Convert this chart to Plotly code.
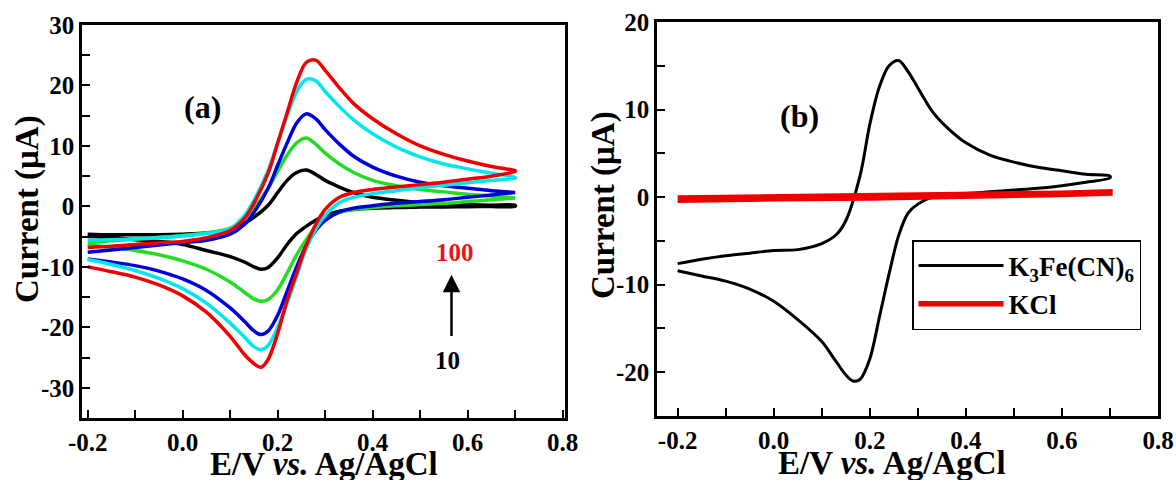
import plotly.graph_objects as go

# ---------------- data ----------------
# potential grid (V): forward (anodic) and reverse (cathodic) sweep
X_FWD = [-0.2, -0.15, -0.1, -0.05, 0.0, 0.05, 0.1, 0.13, 0.15, 0.18, 0.2, 0.22,
         0.24, 0.26, 0.28, 0.3, 0.33, 0.36, 0.4, 0.45, 0.5, 0.55, 0.6, 0.65, 0.7]
X_REV = [0.7, 0.65, 0.6, 0.55, 0.5, 0.45, 0.4, 0.36, 0.33, 0.3, 0.28, 0.26, 0.24,
         0.22, 0.2, 0.18, 0.165, 0.15, 0.13, 0.1, 0.05, 0.0, -0.05, -0.1, -0.15, -0.2]

# panel (a): scan rates 10 ... 100 mV/s (current, uA)
A_BLACK_FWD = [-4.6, -4.7, -4.7, -4.7, -4.6, -4.4, -3.8, -2.8, -1.8, 0.2, 2.3, 4.3,
               5.6, 6.0, 5.3, 4.3, 3.2, 2.3, 1.5, 1.0, 0.6, 0.4, 0.3, 0.2, 0.2]
A_BLACK_REV = [0.0, 0.0, -0.05, -0.1, -0.1, -0.2, -0.3, -0.5, -0.8, -1.5, -2.3, -3.3,
               -4.5, -6.3, -8.5, -10.1, -10.4, -10.0, -9.2, -8.3, -7.3, -6.3, -5.8,
               -5.5, -5.2, -5.0]
A_GREEN_FWD = [-6.0, -5.7, -5.4, -5.1, -4.8, -4.4, -3.6, -2.0, -0.3, 3.0, 5.8, 8.5,
               10.5, 11.3, 10.3, 8.8, 7.0, 5.6, 4.3, 3.4, 2.8, 2.4, 2.0, 1.7, 1.4]
A_GREEN_REV = [1.4, 1.1, 0.8, 0.5, 0.3, 0.1, -0.2, -0.5, -1.0, -2.2, -3.5, -5.5, -8.0,
               -11.0, -13.8, -15.4, -15.7, -15.3, -14.2, -12.5, -10.4, -9.0, -8.0,
               -7.3, -6.8, -6.4]
A_BLUE_FWD = [-7.6, -7.2, -6.8, -6.4, -6.0, -5.6, -4.6, -3.0, -1.0, 3.0, 6.8, 10.5,
              13.8, 15.3, 14.5, 12.7, 10.3, 8.3, 6.5, 5.0, 4.0, 3.4, 3.0, 2.6, 2.3]
A_BLUE_REV = [2.3, 1.9, 1.5, 1.1, 0.8, 0.5, 0.1, -0.3, -0.9, -2.3, -4.0, -6.5, -10.0,
              -14.0, -18.0, -20.6, -21.2, -20.6, -19.0, -16.8, -13.9, -12.0, -10.7,
              -9.8, -9.2, -8.7]
A_CYAN_FWD = [-5.6, -5.5, -5.4, -5.2, -4.9, -4.5, -3.7, -1.5, 1.0, 6.0, 10.5, 15.0,
              19.0, 21.0, 20.8, 19.0, 16.5, 14.3, 12.0, 9.8, 8.2, 7.0, 6.2, 5.5, 4.8]
A_CYAN_REV = [4.7, 4.3, 3.9, 3.5, 3.1, 2.6, 2.1, 1.5, 0.6, -1.5, -3.8, -7.0, -11.5,
              -16.0, -20.0, -23.0, -23.7, -23.2, -21.6, -19.3, -16.0, -13.6, -11.9,
              -10.6, -9.6, -8.8]
A_RED_FWD = [-6.8, -6.6, -6.3, -6.0, -5.8, -5.2, -4.0, -2.0, 0.5, 5.5, 10.5, 15.5,
             20.5, 23.8, 24.2, 22.5, 19.6, 17.0, 14.5, 12.0, 10.0, 8.6, 7.5, 6.6, 5.9]
A_RED_REV = [5.8, 5.0, 4.5, 4.0, 3.6, 3.2, 2.8, 2.3, 1.5, -0.5, -3.0, -6.5, -11.0,
             -15.5, -21.0, -25.3, -26.6, -26.0, -24.5, -21.5, -17.5, -14.8, -13.0,
             -11.7, -10.8, -10.0]

# panel (b)
B_FE_FWD = [-7.6, -7.1, -6.7, -6.4, -6.1, -6.0, -5.3, -4.3, -2.7, 2.5, 8.3, 12.6,
            15.0, 15.6, 14.3, 12.5, 9.8, 8.0, 6.2, 4.8, 4.0, 3.4, 3.0, 2.6, 2.4]
B_FE_REV = [2.2, 1.7, 1.3, 1.0, 0.8, 0.6, 0.4, 0.2, 0.0, -0.8, -1.8, -4.4, -8.8,
            -13.7, -18.5, -20.8, -21.0, -20.3, -18.8, -16.5, -14.0, -11.9, -10.5,
            -9.6, -9.0, -8.4]
KCL_X_FWD = [-0.2, 0.0, 0.2, 0.4, 0.6, 0.7]
KCL_FWD = [-0.1, 0.0, 0.1, 0.25, 0.45, 0.6]
KCL_X_REV = [0.7, 0.6, 0.4, 0.2, 0.0, -0.2]
KCL_REV = [0.45, 0.3, 0.05, -0.1, -0.2, -0.35]

# tick labels
X_TICKVALS = [-0.2, 0.0, 0.2, 0.4, 0.6, 0.8]
X_TICKTEXT = ["-0.2", "0.0", "0.2", "0.4", "0.6", "0.8"]
YA_TICKVALS = [-30, -20, -10, 0, 10, 20, 30]
YA_TICKTEXT = ["-30", "-20", "-10", "0", "10", "20", "30"]
YB_TICKVALS = [-20, -10, 0, 10, 20]
YB_TICKTEXT = ["-20", "-10", "0", "10", "20"]

SERIES_A = [
    ("10 mV/s", "#000000", A_BLACK_FWD, A_BLACK_REV),
    ("40 mV/s", "#22dd22", A_GREEN_FWD, A_GREEN_REV),
    ("60 mV/s", "#0000dd", A_BLUE_FWD, A_BLUE_REV),
    ("80 mV/s", "#00e6ee", A_CYAN_FWD, A_CYAN_REV),
    ("100 mV/s", "#ee0000", A_RED_FWD, A_RED_REV),
]

FONT = "Liberation Serif"

fig = go.Figure()

for name, color, fwd, rev in SERIES_A:
    fig.add_trace(go.Scatter(
        x=X_FWD + X_REV, y=fwd + rev, mode="lines", name=name,
        line=dict(color=color, width=3.5, shape="spline", smoothing=0.9),
        xaxis="x", yaxis="y", showlegend=False))

fig.add_trace(go.Scatter(
    x=X_FWD + X_REV, y=B_FE_FWD + B_FE_REV, mode="lines",
    name="K<sub>3</sub>Fe(CN)<sub>6</sub>",
    line=dict(color="#000000", width=3, shape="spline", smoothing=0.9),
    xaxis="x2", yaxis="y2"))
fig.add_trace(go.Scatter(
    x=KCL_X_FWD + KCL_X_REV, y=KCL_FWD + KCL_REV, mode="lines", name="KCl",
    line=dict(color="#ee0000", width=5.5),
    xaxis="x2", yaxis="y2"))

tickfont = dict(family=FONT, size=25, color="black", weight="bold")

def xaxis_cfg(domain, rng, anchor):
    return dict(domain=domain, range=rng, anchor=anchor, automargin=False,
                tickvals=X_TICKVALS, ticktext=X_TICKTEXT,
                ticks="inside", ticklen=8, tickwidth=2, tickcolor="black",
                minor=dict(tickvals=[-0.1, 0.1, 0.3, 0.5, 0.7], ticks="inside",
                           ticklen=8, tickwidth=2, tickcolor="black"),
                showline=True, linewidth=2.5, linecolor="black", mirror=True,
                showgrid=False, zeroline=False, tickfont=tickfont)

def yaxis_cfg(domain, rng, anchor, tv, tt, minor_vals):
    return dict(domain=domain, range=rng, anchor=anchor, automargin=False,
                tickvals=tv, ticktext=tt,
                ticks="inside", ticklen=8, tickwidth=2, tickcolor="black",
                minor=dict(tickvals=minor_vals, ticks="inside",
                           ticklen=8, tickwidth=2, tickcolor="black"),
                showline=True, linewidth=2.5, linecolor="black", mirror=True,
                showgrid=False, zeroline=False, tickfont=tickfont)

W, H = 1176, 480
fig.update_layout(
    template="none",
    width=W, height=H,
    margin=dict(l=0, r=0, t=0, b=0, autoexpand=False),
    paper_bgcolor="white", plot_bgcolor="white",
    font=dict(family=FONT, color="black"),
    xaxis=xaxis_cfg([82 / W, 565 / W], [-0.212, 0.805], "y"),
    yaxis=yaxis_cfg([(H - 418) / H, (H - 25) / H], [-35, 30], "x",
                    YA_TICKVALS, YA_TICKTEXT, [-25, -15, -5, 5, 15, 25]),
    xaxis2=xaxis_cfg([657 / W, 1158 / W], [-0.243, 0.8], "y2"),
    yaxis2=yaxis_cfg([(H - 416) / H, (H - 22) / H], [-25, 20], "x2",
                     YB_TICKVALS, YB_TICKTEXT, [-15, -5, 5, 15]),
    legend=dict(x=912 / W, y=(H - 240) / H, xanchor="left", yanchor="top",
                bordercolor="black", borderwidth=1.5, bgcolor="white",
                font=dict(family=FONT, size=27, color="black", weight="bold"),
                itemwidth=85, tracegroupgap=0),
)

title_font = dict(family=FONT, size=33, color="black", weight="bold")
ann = [
    dict(text="Current (μA)", x=27 / W, y=(H - 209) / H, xref="paper", yref="paper",
         textangle=-90, showarrow=False, font=title_font, xanchor="center", yanchor="middle"),
    dict(text="Current (μA)", x=603 / W, y=(H - 205) / H, xref="paper", yref="paper",
         textangle=-90, showarrow=False, font=title_font, xanchor="center", yanchor="middle"),
    dict(text="E/V <i>vs.</i> Ag/AgCl", x=324 / W, y=(H - 464) / H, xref="paper", yref="paper",
         showarrow=False, font=title_font, xanchor="center", yanchor="middle"),
    dict(text="E/V <i>vs.</i> Ag/AgCl", x=892 / W, y=(H - 463) / H, xref="paper", yref="paper",
         showarrow=False, font=title_font, xanchor="center", yanchor="middle"),
    dict(text="(a)", x=0.042, y=16.5, xref="x", yref="y", showarrow=False,
         font=dict(family=FONT, size=32, color="black", weight="bold")),
    dict(text="(b)", x=0.054, y=9.3, xref="x2", yref="y2", showarrow=False,
         font=dict(family=FONT, size=32, color="black", weight="bold")),
    dict(text="100", x=0.574, y=-7.7, xref="x", yref="y", showarrow=False,
         font=dict(family=FONT, size=25, color="#e8141c", weight="bold")),
    dict(text="10", x=0.558, y=-25.5, xref="x", yref="y", showarrow=False,
         font=dict(family=FONT, size=25, color="black", weight="bold")),
    dict(text="", x=0.566, y=-11.3, ax=0.566, ay=-21.7, xref="x", yref="y",
         axref="x", ayref="y", showarrow=True, arrowhead=2, arrowsize=1.4,
         arrowwidth=2.5, arrowcolor="black"),
]
fig.update_layout(annotations=ann)

fig.write_html("out.html", config={"displayModeBar": False},
               post_script="document.body.style.margin='0';document.body.style.overflow='hidden';")
